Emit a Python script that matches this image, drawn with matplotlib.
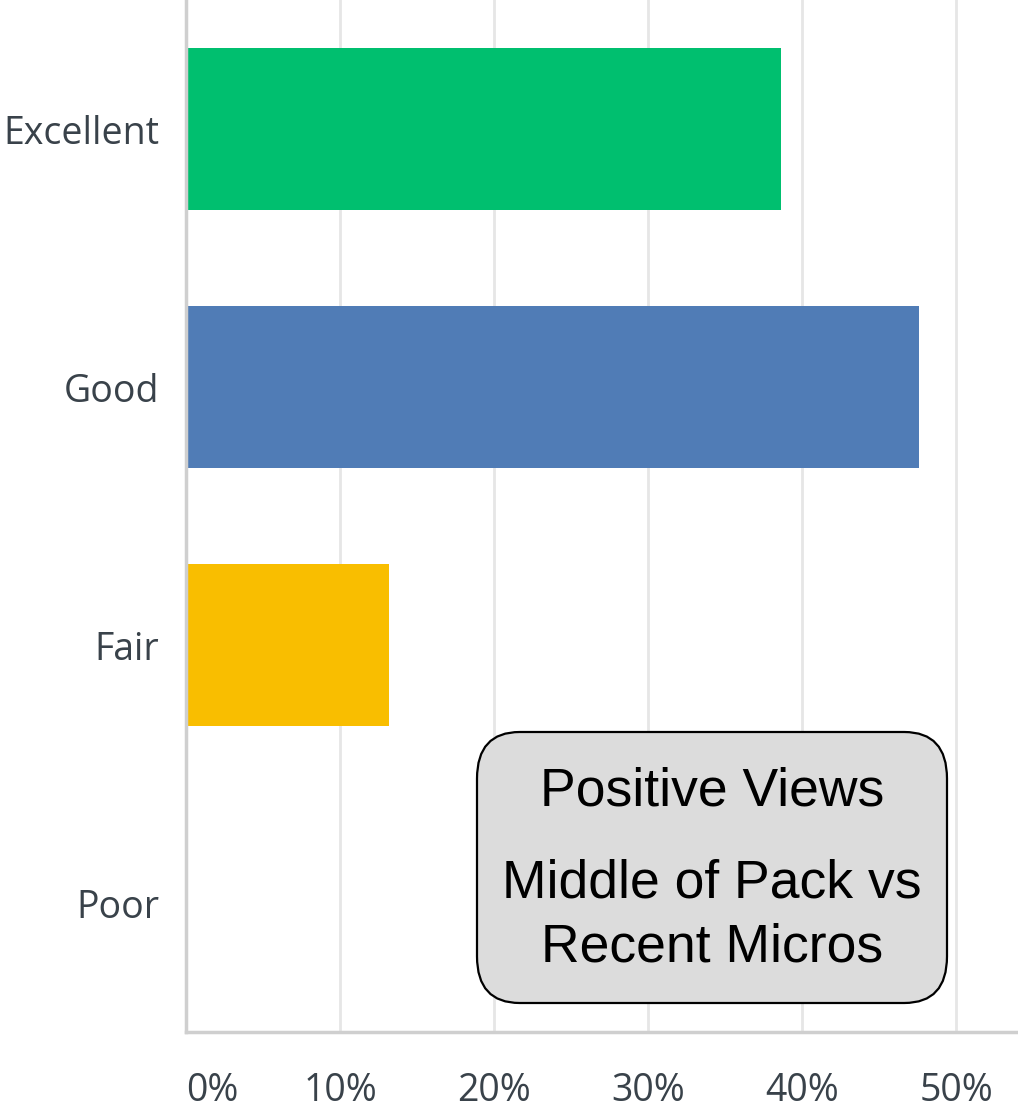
import matplotlib.pyplot as plt
from matplotlib.patches import FancyBboxPatch

# dados
categorias = ['Excellent', 'Good', 'Fair', 'Poor']
valores = [38.6, 47.6, 13.2, 0.0]
cores = ['#00bf6f', '#507cb6', '#f9be00', '#cccccc']
ticks_x = [0, 10, 20, 30, 40, 50]
rotulos_x = ['0%', '10%', '20%', '30%', '40%', '50%']
texto_caixa = ['Positive Views', 'Middle of Pack vs', 'Recent Micros']

W, H = 1018, 1110
fig = plt.figure(figsize=(W / 100, H / 100), dpi=100)
ax = fig.add_axes([186 / W, 78 / H, 832 / W, 1032 / H])

y = list(range(len(categorias)))
ax.barh(y, valores, height=0.628, color=cores, zorder=2)

ax.set_xlim(0, 54.0)
ax.set_ylim(3.5, -0.5)

# grade vertical
ax.set_xticks(ticks_x)
ax.set_xticklabels(rotulos_x)
ax.xaxis.grid(True, color='#e6e6e6', lw=2, zorder=0)
ax.set_axisbelow(True)

ax.set_yticks(y)
ax.set_yticklabels(categorias)

for s in ['top', 'right']:
    ax.spines[s].set_visible(False)
for s in ['left', 'bottom']:
    ax.spines[s].set_color('#cfcfcf')
    ax.spines[s].set_linewidth(2.5)

ax.tick_params(axis='both', length=0, labelcolor='#39424a', labelsize=27)
ax.tick_params(axis='x', pad=29)
ax.tick_params(axis='y', pad=19)
for lab in ax.get_xticklabels() + ax.get_yticklabels():
    lab.set_family('Open Sans')
ax.get_xticklabels()[0].set_horizontalalignment('left')

# caixa de anotação
x0, y0, x1, y1 = 477, 732, 947, 1003
caixa = FancyBboxPatch((x0 / W, 1 - y1 / H), (x1 - x0) / W, (y1 - y0) / H,
                       boxstyle='round,pad=0,rounding_size=0.042',
                       transform=fig.transFigure, facecolor='#dcdcdc',
                       edgecolor='black', lw=1.6, zorder=5)
fig.patches.append(caixa)

cx = (x0 + x1) / 2 / W
for txt, yy in zip(texto_caixa, [791, 884, 948]):
    fig.text(cx, 1 - yy / H, txt, ha='center', va='center',
             fontsize=38.5, family='Liberation Sans', color='black', zorder=6)

fig.savefig('out.png', dpi=100)
